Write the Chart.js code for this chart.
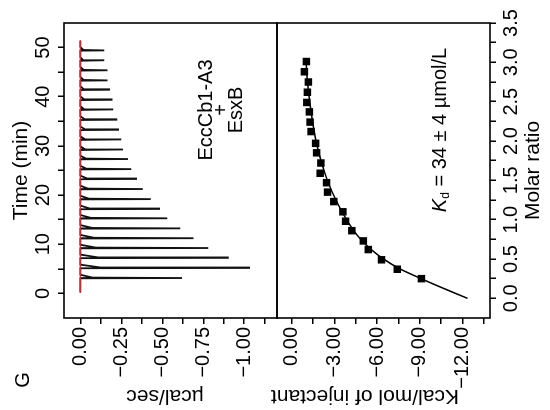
<!DOCTYPE html>
<html>
<head>
<meta charset="utf-8">
<script src="https://cdn.jsdelivr.net/npm/chart.js@4/dist/chart.umd.min.js"></script>
<style>
  html, body { margin: 0; padding: 0; background: #fff; overflow: hidden; }
  #wrap {
    position: absolute; left: 0; top: 0; width: 410px; height: 550px;
    transform-origin: 0 0; transform: translate(0, 410px) rotate(-90deg);
  }
  canvas { position: absolute; left: 0; }
</style>
</head>
<body>
<div id="wrap">
  <canvas id="raw" width="410" height="278" style="top:0"></canvas>
  <canvas id="iso" width="410" height="280" style="top:270px"></canvas>
</div>
<script>
// raw thermogram: injection times (min) and peak heights (µcal/sec)
var injectTime = [3.1, 5.15, 7.2, 9.2, 11.2, 13.2, 15.25, 17.15, 19.15, 21.2, 23.25, 25.25,
                  27.3, 29.2, 31.25, 33.25, 35.3, 37.35, 39.35, 41.4, 43.3, 45.35, 47.35, 49.4];
var peakHeat = [-0.62, -1.03, -0.90, -0.78, -0.69, -0.61, -0.53, -0.48, -0.43, -0.38, -0.34, -0.31,
                -0.29, -0.26, -0.25, -0.23, -0.22, -0.20, -0.19, -0.175, -0.165, -0.165, -0.146, -0.146];

// integrated heats
var molarRatio = [0.25, 0.37, 0.49, 0.62, 0.73, 0.86, 0.98, 1.10, 1.23, 1.35, 1.47, 1.59,
                  1.72, 1.85, 1.97, 2.12, 2.24, 2.37, 2.49, 2.62, 2.75, 2.88, 3.01];
var heatPerMol = [-9.12, -7.42, -6.31, -5.38, -5.03, -4.22, -3.78, -3.59, -2.95, -2.51, -2.44, -1.99,
                  -2.04, -1.74, -1.67, -1.35, -1.28, -1.23, -1.05, -1.09, -1.16, -0.88, -1.02];

// fitted curve
var fitRatio = [0.0, 0.125, 0.25, 0.375, 0.5, 0.625, 0.75, 0.875, 1.0, 1.25, 1.5, 1.75, 2.0, 2.25, 2.5, 2.75, 3.0];
var fitHeat = [-12.36, -10.7, -9.1, -7.6, -6.45, -5.55, -4.85, -4.3, -3.85, -3.1, -2.5, -2.05, -1.7, -1.45, -1.25, -1.1, -1.0];

// axis ticks (every tick mark) and which ones carry a label
var timeTicks = [0, 5, 10, 15, 20, 25, 30, 35, 40, 45, 50];
var timeLabels = [0, 10, 20, 30, 40, 50];
var ucalTicks = [0, -0.125, -0.25, -0.375, -0.5, -0.625, -0.75, -0.875, -1.0, -1.125];
var ucalLabels = [0, -0.25, -0.5, -0.75, -1.0];
var ratioTicks = [0, 0.25, 0.5, 0.75, 1.0, 1.25, 1.5, 1.75, 2.0, 2.25, 2.5, 2.75, 3.0, 3.25, 3.5];
var ratioLabels = [0, 0.5, 1.0, 1.5, 2.0, 2.5, 3.0, 3.5];
var kcalTicks = [0, -1.5, -3, -4.5, -6, -7.5, -9, -10.5, -12, -13.5];
var kcalLabels = [0, -3, -6, -9, -12];

var FONT = 'Liberation Sans, Arial, sans-serif';

function minus(s) { return s.replace('-', '\u2212'); }

function axis(pos, min, max, tickVals, labelVals, fmt, size, extra) {
    var o = {
        type: 'linear', position: pos, min: min, max: max,
        afterBuildTicks: function (s) { s.ticks = tickVals.map(function (v) { return { value: v }; }); },
        afterFit: function (s) {
            if (pos === 'left') s.width = size; else s.height = size;
            s.paddingTop = 0; s.paddingBottom = 0; s.paddingLeft = 0; s.paddingRight = 0;
        },
        grid: { drawOnChartArea: false, drawTicks: true, tickLength: 6, color: '#000', lineWidth: 1.5 },
        border: { display: false },
        ticks: {
            color: '#000', font: { family: FONT, size: 20 }, padding: 3,
            autoSkip: false, maxRotation: 0, minRotation: 0,
            callback: function (v) {
                return labelVals.some(function (l) { return Math.abs(l - v) < 1e-9; }) ? fmt(v) : '';
            }
        }
    };
    return Object.assign(o, extra || {});
}

// frame + free text
function extras(texts) {
    return {
        id: 'extras',
        afterDraw: function (chart) {
            var ctx = chart.ctx, a = chart.chartArea;
            ctx.save();
            ctx.strokeStyle = '#000';
            ctx.lineWidth = 1.6;
            ctx.strokeRect(a.left, a.top, a.right - a.left, a.bottom - a.top);
            ctx.fillStyle = '#000';
            texts.forEach(function (t) {
                ctx.save();
                ctx.translate(t.x, t.y);
                if (t.rot) ctx.rotate(t.rot);
                if (t.draw) { t.draw(ctx); ctx.restore(); return; }
                ctx.font = (t.size || 20) + 'px ' + FONT;
                ctx.textAlign = 'center';
                ctx.textBaseline = 'middle';
                ctx.fillText(t.text, 0, 0);
                ctx.restore();
            });
            ctx.restore();
        }
    };
}

// raw trace built from each read peak
var trace = [{ x: 0.2, y: 0 }];
injectTime.forEach(function (t, i) {
    var p = peakHeat[i];
    trace.push({ x: t - 0.03, y: 0 }, { x: t + 0.03, y: p }, { x: t + 0.12, y: p * 0.12 }, { x: t + 0.7, y: 0 });
});
trace.push({ x: 51.4, y: 0 });

new Chart(document.getElementById('raw'), {
    type: 'scatter',
    data: {
        datasets: [{
            data: [{ x: 0.1, y: 0 }, { x: 51.5, y: 0 }],
            showLine: true, borderColor: '#ec1c24', borderWidth: 1.4, pointRadius: 0
        }, {
            data: trace,
            showLine: true, borderColor: '#111', borderWidth: 1.8, pointRadius: 0, tension: 0
        }]
    },
    options: {
        responsive: false, animation: false, events: [],
        layout: { padding: { left: 0, right: 23, top: 0, bottom: 1 } },
        plugins: { legend: { display: false }, tooltip: { enabled: false } },
        scales: {
            x: axis('top', -5, 55, timeTicks, timeLabels, function (v) { return String(v); }, 64, {
                title: { display: true, text: 'Time (min)', color: '#000', font: { family: FONT, size: 21 }, padding: { top: 9, bottom: 0 } }
            }),
            y: axis('left', -1.2, 0.1, ucalTicks, ucalLabels, function (v) { return minus(v.toFixed(2)); }, 92)
        }
    },
    plugins: [extras([
        { text: '\u00b5cal/sec', x: 14, y: 165, rot: -Math.PI / 2, size: 21 },
        { text: 'G', x: 30, y: 23, size: 20 },
        { text: 'EccCb1-A3', x: 300, y: 206, size: 20 },
        { text: '+', x: 300, y: 221, size: 20 },
        { text: 'EsxB', x: 300, y: 236, size: 20 }
    ])]
});

new Chart(document.getElementById('iso'), {
    type: 'scatter',
    data: {
        datasets: [{
            data: molarRatio.map(function (r, i) { return { x: r, y: heatPerMol[i] }; }),
            pointStyle: 'rect', pointRadius: 5.3, backgroundColor: '#000', borderColor: '#000', borderWidth: 0
        }, {
            data: fitRatio.map(function (r, i) { return { x: r, y: fitHeat[i] }; }),
            showLine: true, borderColor: '#000', borderWidth: 1.5, pointRadius: 0, tension: 0.3
        }]
    },
    options: {
        responsive: false, animation: false, events: [],
        layout: { padding: { left: 0, right: 23, top: 7, bottom: 0 } },
        plugins: { legend: { display: false }, tooltip: { enabled: false } },
        scales: {
            x: axis('bottom', -0.25, 3.5, ratioTicks, ratioLabels, function (v) { return v.toFixed(1); }, 60, {
                title: { display: true, text: 'Molar ratio', color: '#000', font: { family: FONT, size: 21 }, padding: { top: 0, bottom: 4 } }
            }),
            y: axis('left', -13.95, 1.05, kcalTicks, kcalLabels, function (v) { return minus(v.toFixed(2)); }, 92)
        }
    },
    plugins: [extras([
        { text: 'Kcal/mol of injectant', x: 14, y: 95, rot: -Math.PI / 2, size: 21 },
        { x: 280, y: 170, draw: function (ctx) {
            ctx.textBaseline = 'middle';
            ctx.textAlign = 'left';
            var rest = ' = 34 \u00b1 4 \u00b5mol/L';
            ctx.font = 'italic 20px ' + FONT;
            var wK = ctx.measureText('K').width;
            ctx.font = '12px ' + FONT;
            var wd = ctx.measureText('d').width;
            ctx.font = '20px ' + FONT;
            var wr = ctx.measureText(rest).width;
            var x0 = -(wK + wd + wr) / 2;
            ctx.font = 'italic 20px ' + FONT;
            ctx.fillText('K', x0, 0);
            ctx.font = '12px ' + FONT;
            ctx.fillText('d', x0 + wK, 6);
            ctx.font = '20px ' + FONT;
            ctx.fillText(rest, x0 + wK + wd, 0);
        } }
    ])]
});
</script>
</body>
</html>
